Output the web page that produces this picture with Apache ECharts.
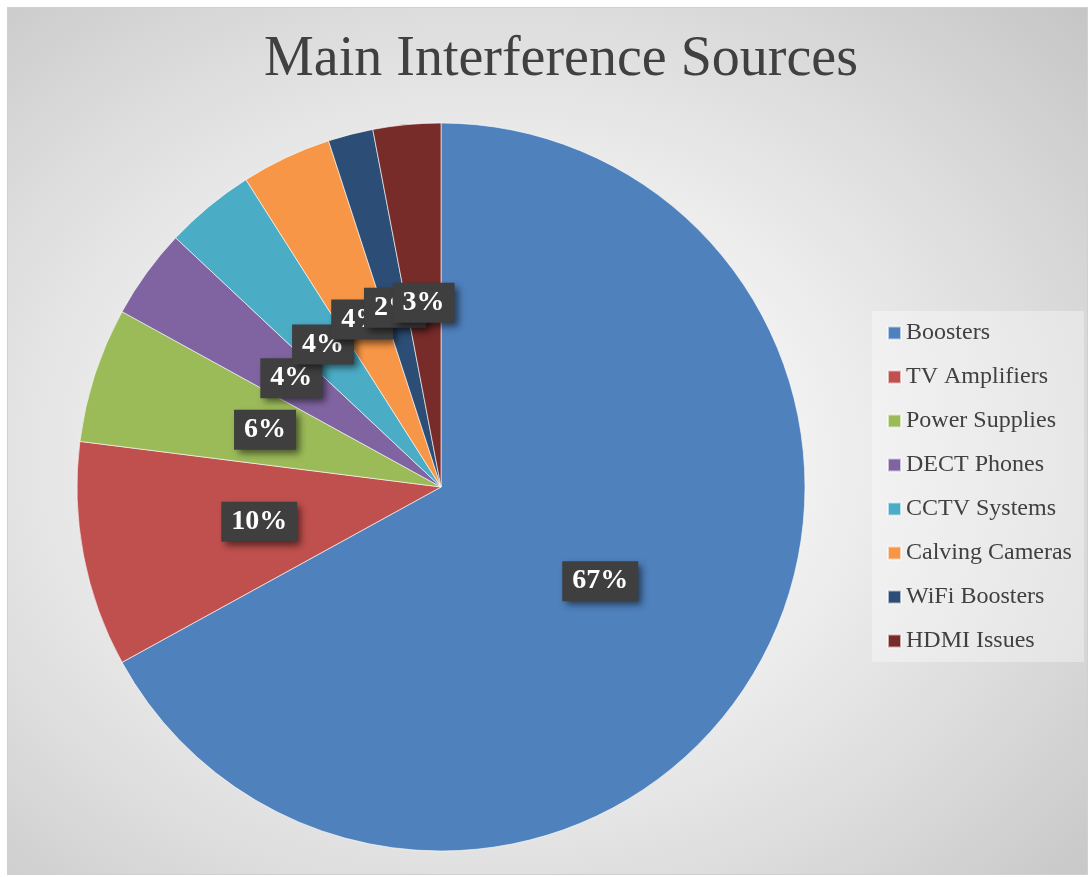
<!DOCTYPE html>
<html>
<head>
<meta charset="utf-8">
<script src="https://cdn.jsdelivr.net/npm/echarts@6/dist/echarts.min.js"></script>
<style>
  html, body { margin: 0; padding: 0; background: #ffffff; }
  #frame {
    position: absolute; left: 7px; top: 7px; width: 1079px; height: 866px;
    border: 1px solid #d0d0d0;
    background: radial-gradient(ellipse 75% 75% at 45% 52%, #ffffff 0%, #f3f3f3 35%, #dcdcdc 70%, #c6c6c6 100%);
  }
  #chart { position: absolute; left: 0; top: 0; width: 1091px; height: 877px; }
</style>
</head>
<body>
<div id="frame"></div>
<div id="chart"></div>
<script>
const titleText = 'Main Interference Sources';
const categories = ['Boosters', 'TV Amplifiers', 'Power Supplies', 'DECT Phones', 'CCTV Systems', 'Calving Cameras', 'WiFi Boosters', 'HDMI Issues'];
const values = [67, 10, 6, 4, 4, 4, 2, 3];
const colors = ['#4F81BD', '#C0504D', '#9BBB59', '#8064A2', '#4BACC6', '#F79646', '#2C4D75', '#772C2A'];

const chart = echarts.init(document.getElementById('chart'), null, { renderer: 'canvas' });
chart.setOption({
  backgroundColor: 'transparent',
  color: colors,
  animation: false,
  title: {
    text: titleText,
    left: 556,
    textAlign: 'center',
    top: 27,
    textStyle: { fontFamily: 'Liberation Serif', fontSize: 56, fontWeight: 'normal', color: '#404040' }
  },
  legend: {
    orient: 'vertical',
    left: 872,
    top: 311,
    padding: [10, 12, 9, 15],
    backgroundColor: 'rgba(255,255,255,0.35)',
    icon: 'rect',
    itemWidth: 13,
    itemHeight: 13,
    itemGap: 20,
    data: categories,
    textStyle: { fontFamily: 'Liberation Serif', fontSize: 24, lineHeight: 24, color: '#404040' }
  },
  series: [{
    type: 'pie',
    center: [441, 487],
    radius: 364,
    startAngle: 90,
    clockwise: true,
    avoidLabelOverlap: false,
    labelLayout: { hideOverlap: false },
    itemStyle: { borderColor: 'rgba(255,255,255,0.6)', borderWidth: 1 },
    label: {
      show: true,
      position: 'inside',
      formatter: '{d}%',
      fontFamily: 'Liberation Serif',
      fontWeight: 'bold',
      fontSize: 28,
      color: '#ffffff',
      backgroundColor: '#3f3f3f',
      padding: [7, 10, 5, 10],
      shadowColor: 'rgba(0,0,0,0.55)',
      shadowBlur: 7,
      shadowOffsetX: 4,
      shadowOffsetY: 4
    },
    labelLine: { show: false },
    emphasis: { disabled: true },
    data: categories.map((c, i) => ({ name: c, value: values[i] }))
  }]
});
</script>
</body>
</html>
